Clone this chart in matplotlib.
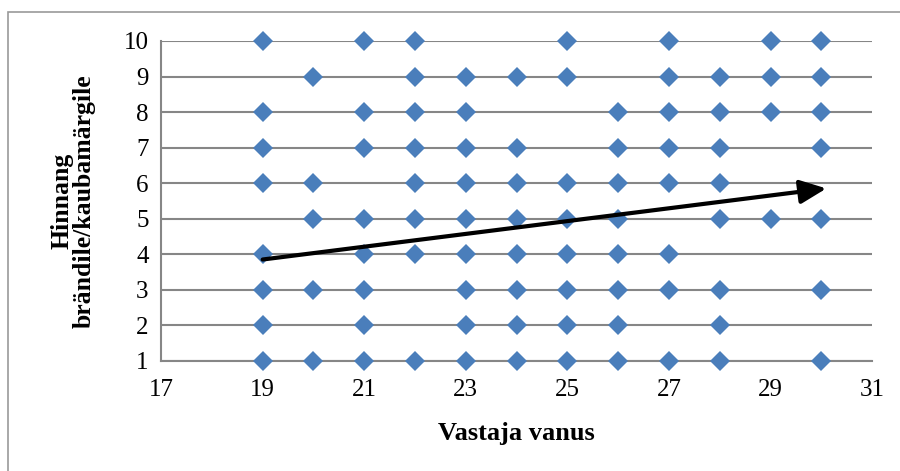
import matplotlib
matplotlib.use("Agg")
import matplotlib.pyplot as plt
from matplotlib.patches import Rectangle

plt.rcParams['font.family'] = ['Liberation Serif', 'DejaVu Serif']

# Respondent ages that gave each rating (1..10)
ratings = [10, 9, 8, 7, 6, 5, 4, 3, 2, 1]
ages_by_rating = {
    10: [19, 21, 22, 25, 27, 29, 30],
    9: [20, 22, 23, 24, 25, 27, 28, 29, 30],
    8: [19, 21, 22, 23, 26, 27, 28, 29, 30],
    7: [19, 21, 22, 23, 24, 26, 27, 28, 30],
    6: [19, 20, 22, 23, 24, 25, 26, 27, 28],
    5: [20, 21, 22, 23, 24, 25, 26, 28, 29, 30],
    4: [19, 21, 22, 23, 24, 25, 26, 27],
    3: [19, 20, 21, 23, 24, 25, 26, 27, 28, 30],
    2: [19, 21, 23, 24, 25, 26, 28],
    1: [19, 20, 21, 22, 23, 24, 25, 26, 27, 28, 30],
}

# Trend arrow endpoints (age, rating)
trend_start = (19.0, 3.85)
trend_end = (30.1, 5.85)

x_ticks = [17, 19, 21, 23, 25, 27, 29, 31]
y_ticks = [1, 2, 3, 4, 5, 6, 7, 8, 9, 10]

fig = plt.figure(figsize=(9.0, 4.71), dpi=100)
ax = fig.add_axes([0.179, 0.234, 0.79, 0.679])

# outer chart frame (open to the right and bottom edges of the image)
fig.patches.append(Rectangle((8 / 900, -0.05), 1.2, 0.05 + 1 - 12 / 471,
                             transform=fig.transFigure, fill=False,
                             edgecolor='#9a9a9a', linewidth=1.2))

xs, ys = [], []
for r in ratings:
    for a in ages_by_rating[r]:
        xs.append(a)
        ys.append(r)

ax.plot(xs, ys, linestyle='none', marker='D', markersize=10.5,
        color='#4A7EBB', markeredgewidth=0, zorder=3, clip_on=False)

ax.annotate('', xy=trend_end, xytext=trend_start,
            arrowprops=dict(arrowstyle='-|>,head_length=1.0,head_width=0.45',
                            mutation_scale=16,
                            color='black', lw=3, shrinkA=0, shrinkB=0),
            zorder=4)

ax.set_xlim(17, 31)
ax.set_ylim(1, 10)
ax.set_xticks(x_ticks)
ax.set_yticks(y_ticks)
ax.yaxis.grid(True, color='#868686', linewidth=1.5)
ax.set_axisbelow(True)
ax.tick_params(length=0, labelsize=18)
ax.tick_params(axis='y', pad=9)
ax.tick_params(axis='x', pad=13)

for s in ['top', 'right']:
    ax.spines[s].set_visible(False)
for s in ['left', 'bottom']:
    ax.spines[s].set_color('#868686')
    ax.spines[s].set_linewidth(1.5)

ax.set_xlabel('Vastaja vanus', fontsize=19, fontweight='bold', labelpad=15)
ax.set_ylabel('Hinnang\nbrändile/kaubamärgile', fontsize=18.5,
              fontweight='bold', labelpad=20, linespacing=0.95)

fig.savefig('out.png', dpi=100)
